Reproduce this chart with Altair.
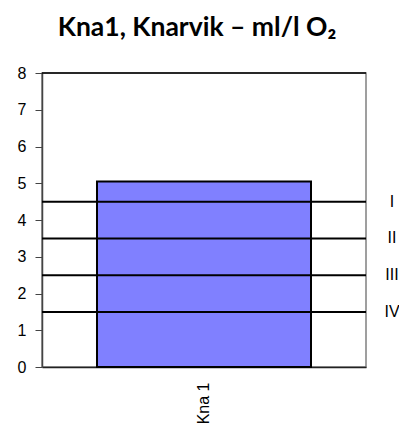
import altair as alt
import pandas as pd

categories = ["Kna 1"]
values = [5.05]
class_limits = [4.5, 3.5, 2.5, 1.5]
class_labels = ["I", "II", "III", "IV"]
y_ticks = [0, 1, 2, 3, 4, 5, 6, 7, 8]

bar_df = pd.DataFrame({"stasjon": categories, "verdi": values})
lim_df = pd.DataFrame({"grense": class_limits, "klasse": class_labels})

W, H = 324, 294

x_scale = alt.Scale(paddingInner=0, paddingOuter=0.257)
y_scale = alt.Scale(domain=[0, 8], nice=False)
y_axis = alt.Axis(values=y_ticks, tickCount=20, format="d", labelOverlap=False,
                  labelFontSize=16, labelFont="Liberation Sans",
                  labelColor="black", tickSize=7, tickColor="#444444",
                  domainColor="#444444", domainWidth=1.5, labelPadding=9,
                  grid=False, title=None)

bars = alt.Chart(bar_df).mark_bar(
    color="#8080FF", stroke="black", strokeWidth=2
).encode(
    x=alt.X("stasjon:N", scale=x_scale, title=None,
            axis=alt.Axis(labelAngle=-90, labelFontSize=16, labelFont="Liberation Sans",
                          labelColor="black", ticks=False, labelPadding=15,
                          domainColor="#222222", domainWidth=1.5)),
    y=alt.Y("verdi:Q", scale=y_scale, axis=y_axis),
)

lines = alt.Chart(lim_df).mark_rule(color="black", strokeWidth=2).encode(
    y=alt.Y("grense:Q", scale=y_scale, axis=y_axis),
    x=alt.value(0), x2=alt.value(W),
)

labels = alt.Chart(lim_df).mark_text(
    align="center", baseline="middle", fontSize=16, font="Liberation Sans", color="black"
).encode(
    y=alt.Y("grense:Q", scale=y_scale, axis=y_axis),
    x=alt.value(W + 26),
    text="klasse:N",
)

top_df = pd.DataFrame({"topp": [8]})
top_line = alt.Chart(top_df).mark_rule(color="black", strokeWidth=1.5).encode(
    y=alt.Y("topp:Q", scale=y_scale, axis=y_axis),
    x=alt.value(0), x2=alt.value(W),
)

chart = alt.layer(bars, lines, labels, top_line).properties(
    width=W, height=H,
    title=alt.TitleParams("Kna1, Knarvik – ml/l O₂", font="Lato", fontSize=26.5,
                          fontWeight="bold", color="black", anchor="middle",
                          dx=-7, offset=24),
    autosize=alt.AutoSizeParams(type="none"),
    padding={"left": 34, "top": 65, "right": 33, "bottom": 58},
).configure_view(stroke="#808080", strokeWidth=1.5)

chart.save("out.html", embed_options={"renderer": "svg", "actions": False})
